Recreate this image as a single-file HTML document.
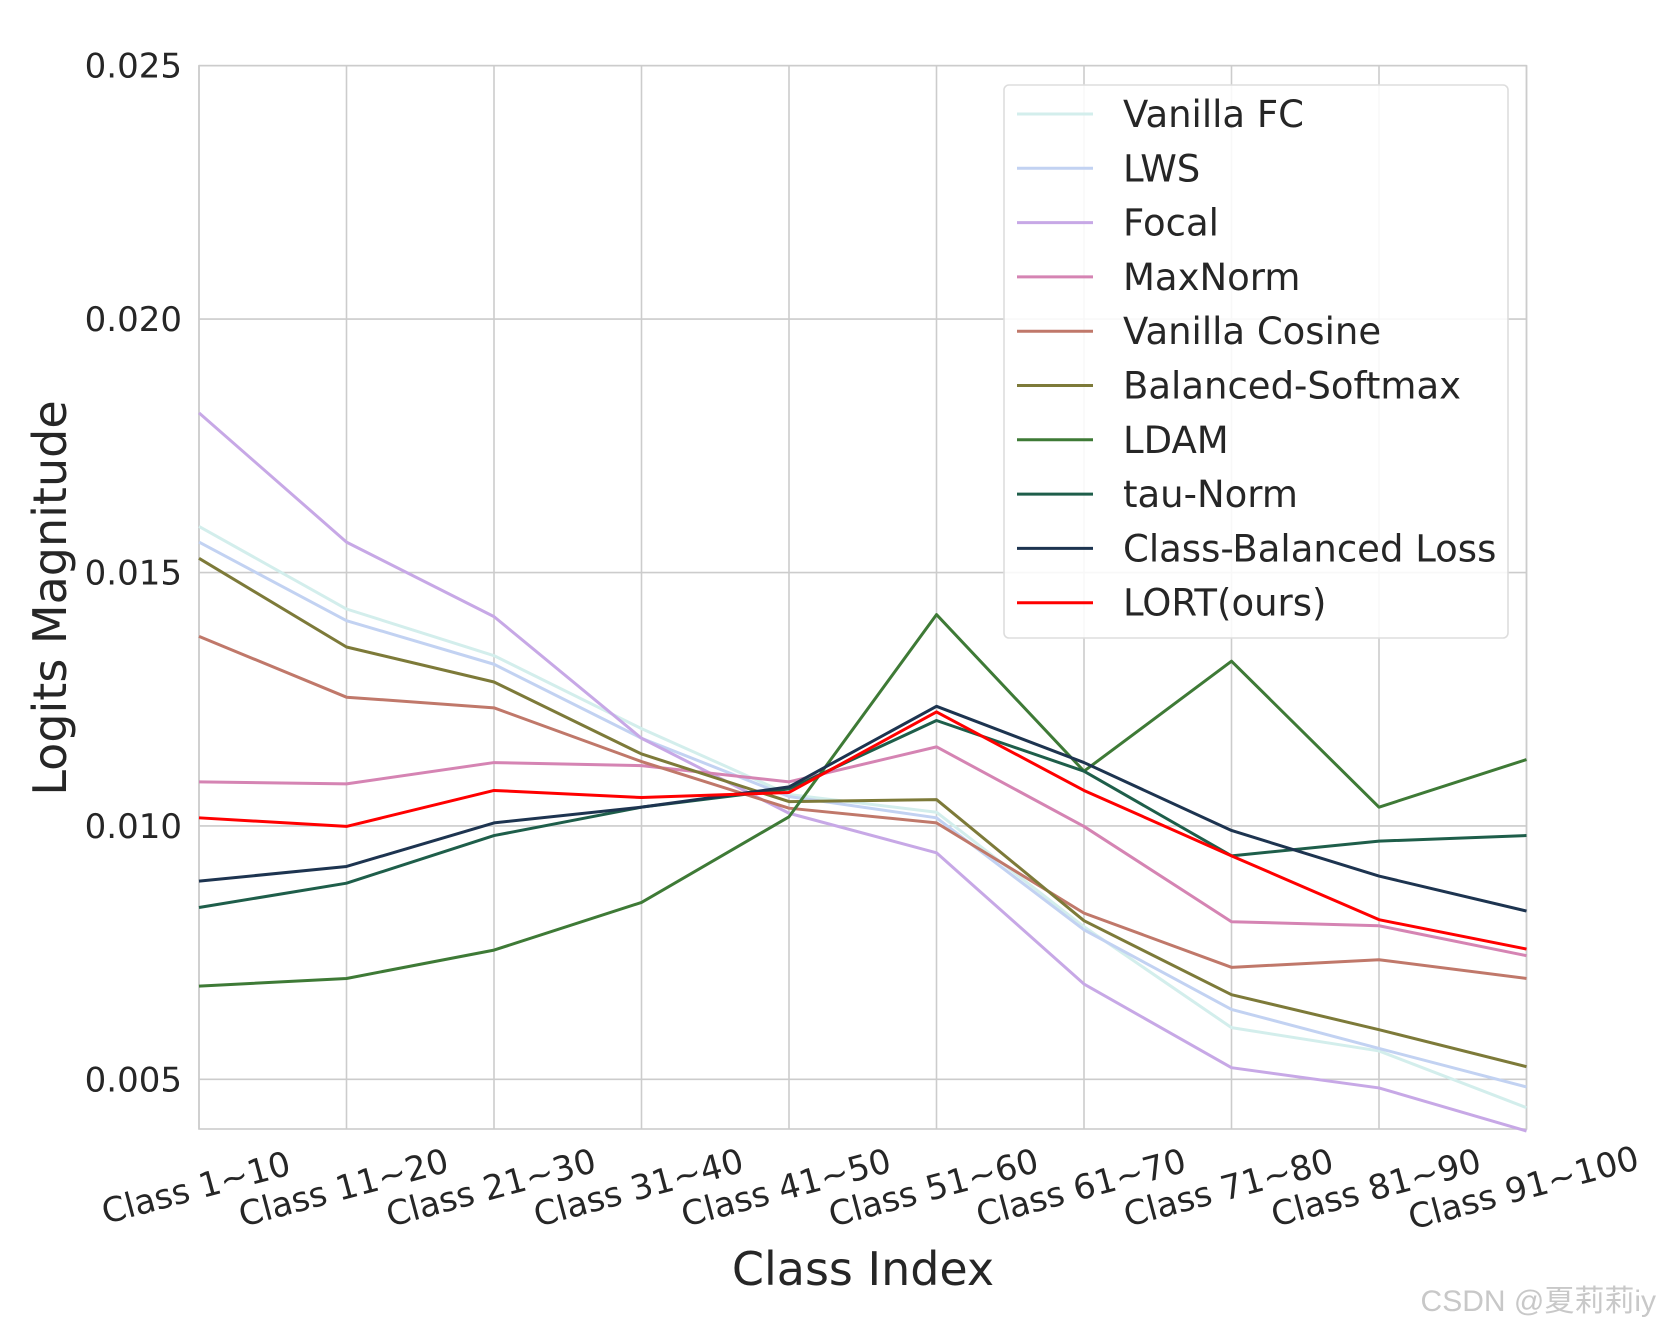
<!DOCTYPE html>
<html><head><meta charset="utf-8"><style>
html,body{margin:0;padding:0;background:#fff;}
svg text{font-family:"DejaVu Sans","Liberation Sans",sans-serif;fill:#262626;}
</style></head><body>
<svg id="chart" width="1661" height="1329" viewBox="0 0 1661 1329" xmlns="http://www.w3.org/2000/svg">
<g id="grid"></g>
<g id="series"></g>
<g id="axes"></g>
<g id="legend"></g>
<text x="863" y="1285" font-size="46" text-anchor="middle">Class Index</text>
<text transform="translate(66,598) rotate(-90)" font-size="46" text-anchor="middle">Logits Magnitude</text>
<text x="1656" y="1311" font-size="30" text-anchor="end" style="fill:#c8c8c8;font-family:'Liberation Sans','Noto Sans CJK SC',sans-serif">CSDN @夏莉莉iy</text>
</svg>
<script>
const categories=["Class 1~10","Class 11~20","Class 21~30","Class 31~40","Class 41~50","Class 51~60","Class 61~70","Class 71~80","Class 81~90","Class 91~100"];
const yTicks=[0.005,0.010,0.015,0.020,0.025];
const yTickLabels=["0.005","0.010","0.015","0.020","0.025"];
const seriesNames=["Vanilla FC","LWS","Focal","MaxNorm","Vanilla Cosine","Balanced-Softmax","LDAM","tau-Norm","Class-Balanced Loss","LORT(ours)"];
const seriesColors=["#d3eeec","#c2d2f2","#c7a8e6","#d584b3","#c0786a","#7d7a39","#3e7a36","#1e5e4a","#1d3450","#ff0000"];
const vanillaFC=[0.01591,0.01428,0.01336,0.01192,0.01062,0.01027,0.00801,0.00602,0.00556,0.00444];
const lws=[0.01560,0.01405,0.01319,0.01173,0.01058,0.01016,0.00795,0.00638,0.00561,0.00485];
const focal=[0.01815,0.01560,0.01413,0.01173,0.01025,0.00947,0.00688,0.00523,0.00483,0.00398];
const maxNorm=[0.01087,0.01083,0.01125,0.01119,0.01087,0.01156,0.00999,0.00811,0.00803,0.00744];
const vanillaCosine=[0.01374,0.01254,0.01233,0.01127,0.01035,0.01006,0.00828,0.00721,0.00736,0.00699];
const balancedSoftmax=[0.01528,0.01353,0.01284,0.01142,0.01048,0.01052,0.00813,0.00667,0.00598,0.00525];
const ldam=[0.00684,0.00699,0.00755,0.00849,0.01018,0.01417,0.01108,0.01325,0.01037,0.01131];
const tauNorm=[0.00839,0.00887,0.00981,0.01037,0.01073,0.01208,0.01108,0.00941,0.00970,0.00981];
const cbLoss=[0.00891,0.00920,0.01006,0.01037,0.01077,0.01236,0.01125,0.00991,0.00901,0.00832];
const lort=[0.01016,0.00999,0.01070,0.01056,0.01066,0.01225,0.01070,0.00941,0.00815,0.00757];
const allSeries=[vanillaFC,lws,focal,maxNorm,vanillaCosine,balancedSoftmax,ldam,tauNorm,cbLoss,lort];

const NS="http://www.w3.org/2000/svg";
const L=199,R=1526.5,T=65.7,B=1129;
const yMin=0.00402,yMax=0.025;
function xPos(i){return L+(R-L)*i/(categories.length-1);}
function yPos(v){return B-(v-yMin)/(yMax-yMin)*(B-T);}
function mk(tag,attrs,parent){const e=document.createElementNS(NS,tag);for(const k in attrs)e.setAttribute(k,attrs[k]);parent.appendChild(e);return e;}
const grid=document.getElementById('grid'),axes=document.getElementById('axes'),ser=document.getElementById('series'),leg=document.getElementById('legend');
mk('rect',{x:L,y:T,width:R-L,height:B-T,fill:'none',stroke:'#cccccc','stroke-width':1.6},grid);
categories.forEach((c,i)=>{
  const g=mk('line',{x1:xPos(i),x2:xPos(i),y1:T,y2:B,stroke:'#cccccc','stroke-width':1.6},grid);
  
  
  const t=mk('text',{transform:`translate(${xPos(i)},${B+70}) rotate(-15)`,'font-size':34,'text-anchor':'middle'},axes);
  t.textContent=c;
  
  
});
yTicks.forEach((v,i)=>{
  const g=mk('line',{x1:L,x2:R,y1:yPos(v),y2:yPos(v),stroke:'#cccccc','stroke-width':1.6},grid);
  
  
  const t=mk('text',{x:182,y:yPos(v)+12,'font-size':34,'text-anchor':'end'},axes);
  t.textContent=yTickLabels[i];
  
  
});
allSeries.forEach((s,k)=>{
  const p=mk('polyline',{points:s.map((v,i)=>xPos(i)+','+yPos(v)).join(' '),fill:'none',stroke:seriesColors[k],'stroke-width':3,'stroke-linejoin':'round'},ser);
  
  
});
const box=mk('rect',{x:1004,y:85,width:504,height:553,rx:5,fill:'#fff','fill-opacity':0.85,stroke:'#dddddd','stroke-width':1.6},leg);


seriesNames.forEach((n,k)=>{
  const y=114+k*54.3;
  const ln=mk('line',{x1:1017,x2:1093,y1:y,y2:y,stroke:seriesColors[k],'stroke-width':3},leg);
  
  
  const t=mk('text',{x:1123,y:y+13,'font-size':37},leg);
  t.textContent=n;
  
  
});
</script>
</body></html>
